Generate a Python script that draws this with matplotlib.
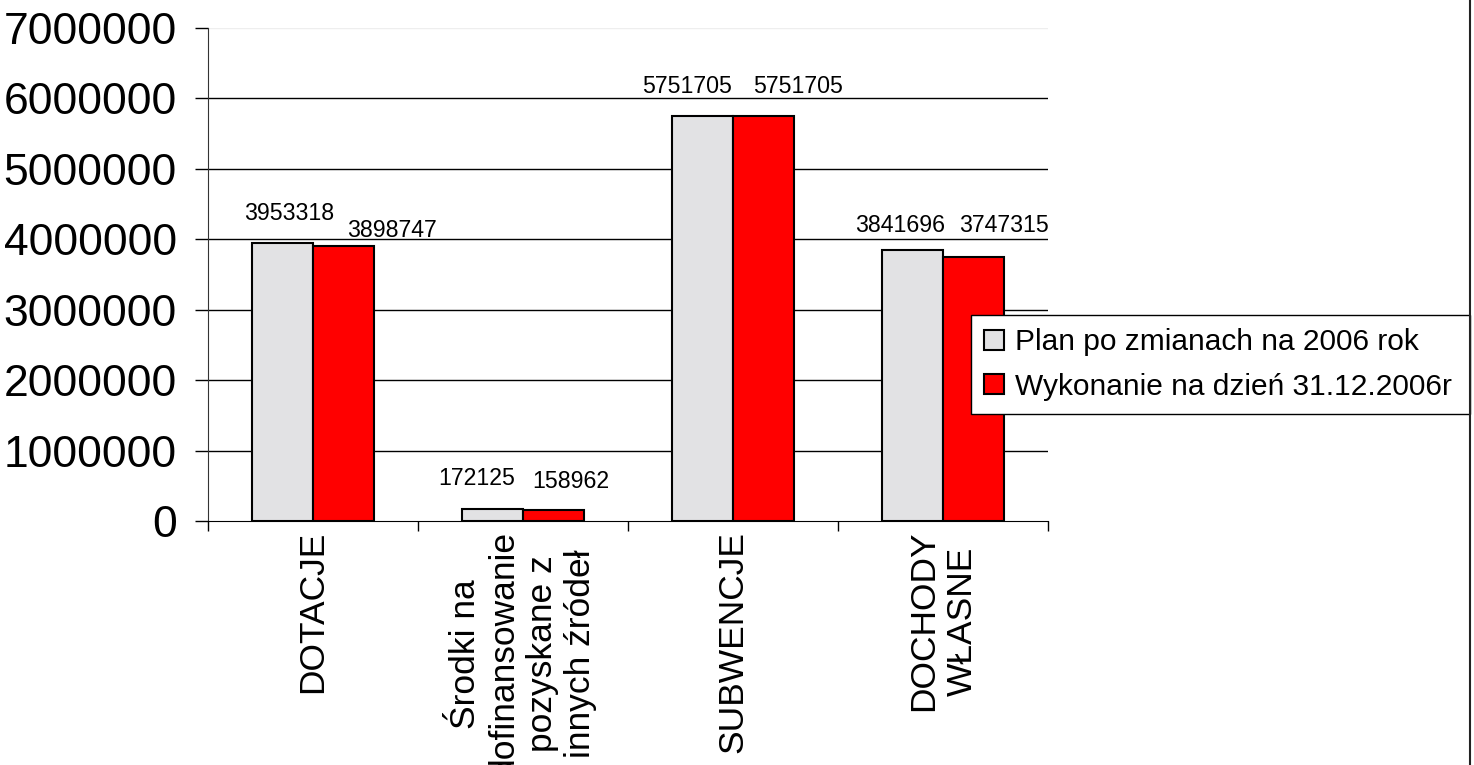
import matplotlib
matplotlib.use("Agg")
import matplotlib.pyplot as plt
from matplotlib.lines import Line2D
import numpy as np

categories = ["DOTACJE",
              "Środki na\ndofinansowanie\npozyskane z\ninnych źródeł",
              "SUBWENCJE",
              "DOCHODY\nWŁASNE"]
plan = [3953318, 172125, 5751705, 3841696]
wykonanie = [3898747, 158962, 5751705, 3747315]
series_names = ["Plan po zmianach na 2006 rok", "Wykonanie na dzień 31.12.2006r"]
y_ticks = [0, 1000000, 2000000, 3000000, 4000000, 5000000, 6000000, 7000000]

# label nudges in pixels (dx, dy above bar top), Excel-ish placement
plan_nudge = [(7, 23), (-16, 24), (-16, 23), (-12, 18)]
wyk_nudge = [(48, 9), (17, 22), (35, 23), (30, 25)]

plt.rcParams['font.family'] = ['Liberation Sans', 'DejaVu Sans']

W, H = 1474, 765
fig = plt.figure(figsize=(W / 100, H / 100), dpi=100)
ax = fig.add_axes([208 / W, 1 - 521 / H, (1048 - 208) / W, (521 - 28) / H])

x = np.arange(len(categories))
bw = 0.29
b1 = ax.bar(x - bw / 2, plan, bw, color='#e2e2e4', edgecolor='black', linewidth=1.5,
            label=series_names[0], zorder=3)
b2 = ax.bar(x + bw / 2, wykonanie, bw, color='#ff0000', edgecolor='black', linewidth=1.5,
            label=series_names[1], zorder=3)

for bars, vals, nudge in [(b1, plan, plan_nudge), (b2, wykonanie, wyk_nudge)]:
    for rect, v, (dx, dy) in zip(bars, vals, nudge):
        ax.annotate(str(v), xy=(rect.get_x() + rect.get_width() / 2, v),
                    xytext=(dx, dy), textcoords='offset pixels',
                    ha='center', va='baseline', fontsize=16.7)

ax.set_xlim(-0.5, len(categories) - 0.5)
ax.set_ylim(0, 7000000)
ax.set_yticks(y_ticks)
ax.set_yticklabels([str(t) for t in y_ticks], fontsize=32)
ax.set_xticks(x)
ax.set_xticklabels(categories, rotation=90, fontsize=25.5, ha='center', va='top',
                   multialignment='center', linespacing=1.2)
ax.set_xticks(np.arange(len(categories) + 1) - 0.5, minor=True)
ax.tick_params(axis='x', which='major', length=0, pad=7)
ax.tick_params(axis='x', which='minor', length=7, width=1, direction='out')
ax.tick_params(axis='y', length=9.5, width=1, direction='out', pad=13)

ax.yaxis.grid(True, color='black', linewidth=1, zorder=0)
ax.set_axisbelow(True)
gl = ax.get_ygridlines()
gl[-1].set_color('#eeeeee')
gl[0].set_visible(False)

for s in ['top', 'right']:
    ax.spines[s].set_visible(False)
ax.spines['left'].set_color('#333333')
ax.spines['bottom'].set_color('black')

leg = ax.legend(loc='upper left',
                bbox_to_anchor=(971 / W, 1 - 412 / H, (1470 - 971) / W, (412 - 315) / H),
                bbox_transform=fig.transFigure, mode='expand', borderaxespad=0,
                fontsize=21.5, handlelength=0.66, handleheight=0.66, handletextpad=0.35,
                labelspacing=0.55, borderpad=0.45, fancybox=False, frameon=True,
                framealpha=1, edgecolor='black')
leg.get_frame().set_linewidth(1)

fig.add_artist(Line2D([1470 / W, 1470 / W], [0, 1], transform=fig.transFigure,
                      color='#222222', linewidth=1.5))

fig.savefig('out.png', dpi=100)
